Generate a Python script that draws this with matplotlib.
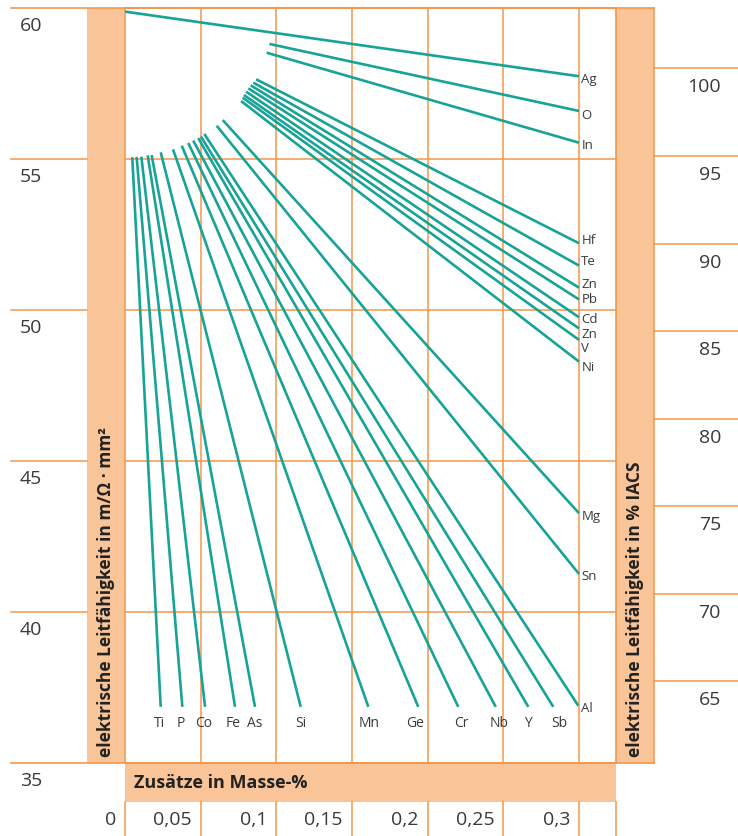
import matplotlib.pyplot as plt
from matplotlib.patches import Rectangle

plt.rcParams['font.family'] = ['Open Sans', 'DejaVu Sans']

orange = '#f4964a'
peach = '#f9c497'
teal = '#17a398'
txt = '#3a3a3a'

# Leitfaehigkeit (m/Ohm mm2) und Zusatz (Masse-%) fuer Anfang und Ende jeder Geraden
names = ['Ag', 'O', 'In',
         'Hf', 'Te', 'Zn', 'Pb', 'Cd', 'Zn', 'V', 'Ni',
         'Ti', 'P', 'Co', 'Fe', 'As', 'Si', 'Mn', 'Ge', 'Cr', 'Nb', 'Y', 'Sb',
         'Al', 'Sn', 'Mg']
x0 = [0.0, 0.0954, 0.0936,
      0.0866, 0.0848, 0.0831, 0.0815, 0.0800, 0.0786, 0.0778, 0.0767,
      0.0048, 0.0077, 0.0108, 0.0150, 0.0176, 0.0236, 0.0317, 0.0375, 0.0418, 0.0451, 0.0484, 0.0502,
      0.0524, 0.0606, 0.0646]
y0 = [59.88, 58.81, 58.52,
      57.64, 57.53, 57.44, 57.34, 57.23, 57.12, 57.03, 56.92,
      55.06, 55.07, 55.08, 55.12, 55.13, 55.22, 55.32, 55.44, 55.53, 55.61, 55.69, 55.74,
      55.83, 56.10, 56.29]
x1 = [0.3, 0.3, 0.3,
      0.3, 0.3, 0.3, 0.3, 0.3, 0.3, 0.3, 0.3,
      0.0236, 0.0379, 0.0529, 0.0727, 0.0859, 0.1161, 0.1608, 0.1938, 0.2202, 0.2450, 0.2665, 0.2830,
      0.2995, 0.3, 0.3]
y1 = [57.74, 56.59, 55.54,
      52.21, 51.47, 50.74, 50.35, 49.76, 49.39, 49.01, 48.29,
      36.86, 36.86, 36.86, 36.86, 36.86, 36.86, 36.86, 36.86, 36.86, 36.86, 36.86, 36.86,
      36.90, 41.26, 43.27]

# Beschriftungen rechts (Hoehe) und unten (x-Lage)
right_labels = ['Ag', 'O', 'In', 'Hf', 'Te', 'Zn', 'Pb', 'Cd', 'Zn', 'V', 'Ni', 'Mg', 'Sn', 'Al']
right_label_y = [57.62, 56.43, 55.44, 52.29, 51.59, 50.83, 50.36, 49.70, 49.20, 48.72, 48.11,
                 43.16, 41.16, 36.82]
bottom_labels = ['Ti', 'P', 'Co', 'Fe', 'As', 'Si', 'Mn', 'Ge', 'Cr', 'Nb', 'Y', 'Sb']
bottom_label_x = [0.0225, 0.0370, 0.0522, 0.0714, 0.0859, 0.1163, 0.1612, 0.1916, 0.2220,
                  0.2471, 0.2663, 0.2868]

sigma_ticks = [60, 55, 50, 45, 40, 35]
iacs_ticks = [100, 95, 90, 85, 80, 75, 70, 65]
x_ticks = [0, 0.05, 0.1, 0.15, 0.2, 0.25, 0.3]
x_ticklabels = ['0', '0,05', '0,1', '0,15', '0,2', '0,25', '0,3']

fig = plt.figure(figsize=(7.38, 8.36), dpi=100)
ax = fig.add_axes([125 / 738, 73 / 836, 491 / 738, 755 / 836])
ax.set_xlim(0, 491 / 1513.3)
ax.set_ylim(35, 60)
ax.set_xticks([])
ax.set_yticks([])
for s in ax.spines.values():
    s.set_color(orange)
    s.set_linewidth(1.2)

# Raster
for v in sigma_ticks[1:-1]:
    ax.axhline(v, color=orange, lw=1.1, zorder=1)
for v in x_ticks[1:]:
    ax.axvline(v, color=orange, lw=1.1, zorder=1)

ytr = ax.get_yaxis_transform()
xtr = ax.get_xaxis_transform()

# Seitenstreifen und Band unten
ax.add_patch(Rectangle((-0.0774, 0), 0.0754, 1, transform=ax.transAxes,
                       facecolor=peach, edgecolor='none', clip_on=False))
ax.add_patch(Rectangle((1.0, 0), 0.0774, 1, transform=ax.transAxes,
                       facecolor=peach, edgecolor='none', clip_on=False))
ax.add_patch(Rectangle((0, -39 / 755), 1, 39 / 755, transform=ax.transAxes,
                       facecolor=peach, edgecolor='none', clip_on=False))
ax.plot([1.0774, 1.0774], [0, 1], transform=ax.transAxes, color=orange, lw=1.1, clip_on=False)

# linke Skala
for v in sigma_ticks:
    if v in (60, 35):
        ax.plot([-0.2322, 1.0774], [v, v], transform=ytr, color=orange, lw=1.2, clip_on=False)
    else:
        ax.plot([-0.2322, -0.0774], [v, v], transform=ytr, color=orange, lw=1.1, clip_on=False)
    ax.annotate(str(v), xy=(-0.2138, v), xycoords=ytr, xytext=(0, -18),
                textcoords='offset pixels', ha='left', va='center',
                fontsize=14, color=txt)

# rechte Skala in % IACS (100 % = 58 m/Ohm mm2)
for v in iacs_ticks:
    yv = v * 0.58
    ax.plot([1.0774, 1.25], [yv, yv], transform=ytr, color=orange, lw=1.1, clip_on=False)
    ax.annotate(str(v), xy=(1.2138, yv), xycoords=ytr, xytext=(0, -19),
                textcoords='offset pixels', ha='right', va='center',
                fontsize=14, color=txt)

# x-Skala unter dem Band
for v, lab in zip(x_ticks, x_ticklabels):
    ax.plot([v, v], [-39 / 755, -0.1], transform=xtr, color=orange, lw=1.1, clip_on=False)
    ax.annotate(lab, xy=(v, 0), xycoords=xtr, xytext=(-9, -57),
                textcoords='offset pixels', ha='right', va='center',
                fontsize=14, color=txt)
ax.plot([1, 1], [-39 / 755, -0.1], transform=ax.transAxes, color=orange, lw=1.1, clip_on=False)

# Geraden
for a, b, c, d in zip(x0, y0, x1, y1):
    ax.plot([a, c], [b, d], color=teal, lw=1.9, solid_capstyle='butt', zorder=3)

for lab, yv in zip(right_labels, right_label_y):
    ax.text(0.3015, yv, lab, ha='left', va='center', fontsize=9.5, color=txt)
for lab, xv in zip(bottom_labels, bottom_label_x):
    ax.text(xv, 36.32, lab, ha='center', va='center', fontsize=10, color=txt)

ax.text(-0.0397, 0.008, 'elektrische Leitfähigkeit in m/\u03a9 \u00b7 mm\u00b2', transform=ax.transAxes,
        rotation=90, ha='center', va='bottom', fontsize=12.5, fontweight='bold', color='#222222')
ax.text(1.0387, 0.008, 'elektrische Leitfähigkeit in % IACS', transform=ax.transAxes,
        rotation=90, ha='center', va='bottom', fontsize=12.5, fontweight='bold', color='#222222')
ax.text(0.0183, -20 / 755, 'Zusätze in Masse-%', transform=ax.transAxes,
        ha='left', va='center', fontsize=13, fontweight='bold', color='#222222')

fig.savefig('out.png', dpi=100)
